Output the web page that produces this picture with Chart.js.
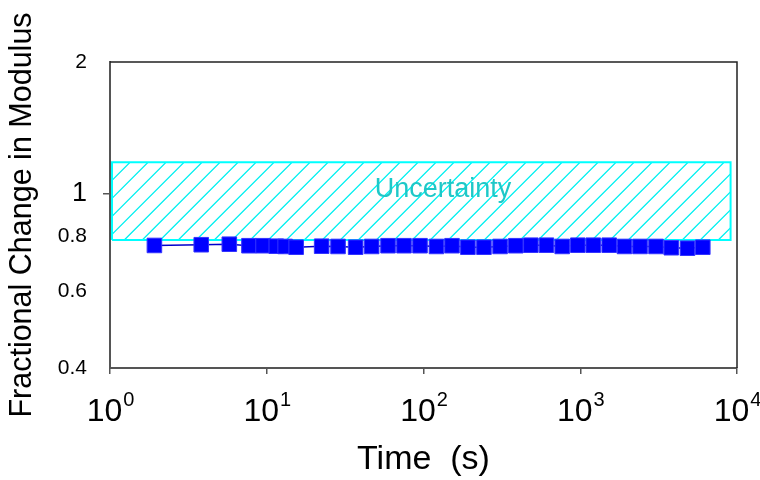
<!DOCTYPE html>
<html>
<head>
<meta charset="utf-8">
<script src="https://cdn.jsdelivr.net/npm/chart.js@4/dist/chart.umd.min.js"></script>
<style>
  html, body { margin: 0; padding: 0; background: #ffffff; }
  #wrap { width: 760px; height: 480px; }
</style>
</head>
<body>
<div id="wrap"><canvas id="c" width="760" height="480"></canvas></div>
<script>
// ---- data ----
const timeValues = [1.92, 3.82, 5.77, 7.7, 9.47, 11.5, 13.1, 15.4, 22.4, 28.5, 36.9, 46.7, 59.4, 75.1, 95.0, 121, 152, 192, 243, 308, 388, 484, 609, 767, 965, 1211, 1530, 1915, 2406, 3043, 3809, 4833, 6050];
const modulusChange = [0.762, 0.765, 0.767, 0.761, 0.761, 0.759, 0.758, 0.755, 0.759, 0.758, 0.755, 0.758, 0.761, 0.761, 0.761, 0.758, 0.761, 0.755, 0.755, 0.758, 0.761, 0.763, 0.763, 0.758, 0.763, 0.763, 0.763, 0.758, 0.758, 0.758, 0.753, 0.751, 0.755];
const bandX = [1.03, 9100];          // uncertainty band time extent
const bandY = [0.784, 1.18];         // uncertainty band modulus extent
const bandLabel = 'Uncertainty';
const bandLabelAt = [133, 1.025];
const xTickValues = [1, 10, 100, 1000, 10000];
const xTickExponents = ['0', '1', '2', '3', '4'];
const yTickValues = [0.4, 0.6, 0.8, 1, 2];
const yTickLabels = ['0.4', '0.6', '0.8', '1', '2'];

const FONT = "'Liberation Sans', Arial, sans-serif";

const bandPolygon = [
  {x: bandX[0], y: bandY[0]}, {x: bandX[0], y: bandY[1]},
  {x: bandX[1], y: bandY[1]}, {x: bandX[1], y: bandY[0]},
  {x: bandX[0], y: bandY[0]}
];

const hatchPlugin = {
  id: 'hatch',
  beforeDatasetsDraw(chart) {
    const ctx = chart.ctx;
    const xs = chart.scales.x, ys = chart.scales.y;
    const l = xs.getPixelForValue(bandX[0]), r = xs.getPixelForValue(bandX[1]);
    const t = ys.getPixelForValue(bandY[1]), b = ys.getPixelForValue(bandY[0]);
    ctx.save();
    ctx.beginPath();
    ctx.rect(l, t, r - l, b - t);
    ctx.clip();
    ctx.strokeStyle = '#00f0f0';
    ctx.lineWidth = 1.3;
    ctx.beginPath();
    const h = b - t, step = 18;
    for (let x0 = l - h; x0 < r + step; x0 += step) {
      ctx.moveTo(x0, b);
      ctx.lineTo(x0 + h, t);
    }
    ctx.stroke();
    ctx.restore();
  }
};

const framePlugin = {
  id: 'frame',
  afterDraw(chart) {
    const ctx = chart.ctx, a = chart.chartArea;
    const xs = chart.scales.x, ys = chart.scales.y;
    ctx.save();
    ctx.strokeStyle = '#222';
    ctx.lineWidth = 1.5;
    ctx.beginPath();
    ctx.moveTo(a.left, a.top); ctx.lineTo(a.right, a.top); ctx.lineTo(a.right, a.bottom);
    ctx.stroke();
    ctx.fillStyle = '#000';
    ctx.textBaseline = 'alphabetic';
    xTickValues.forEach((v, i) => {
      const px = xs.getPixelForValue(v);
      ctx.font = '32px ' + FONT;
      const wBase = ctx.measureText('10').width;
      ctx.font = '20px ' + FONT;
      const wExp = ctx.measureText(xTickExponents[i]).width;
      const start = px - (wBase + wExp) / 2;
      ctx.font = '32px ' + FONT;
      ctx.textAlign = 'left';
      ctx.fillText('10', start, a.bottom + 53);
      ctx.font = '20px ' + FONT;
      ctx.fillText(xTickExponents[i], start + wBase + 1, a.bottom + 38);
    });
    ctx.font = '27px ' + FONT;
    ctx.fillStyle = '#1ec8c8';
    ctx.textAlign = 'center';
    ctx.textBaseline = 'middle';
    ctx.fillText(bandLabel, xs.getPixelForValue(bandLabelAt[0]), ys.getPixelForValue(bandLabelAt[1]));
    ctx.restore();
  }
};

new Chart(document.getElementById('c'), {
  type: 'scatter',
  data: {
    datasets: [
      {
        label: 'Modulus',
        data: timeValues.map((t, i) => ({x: t, y: modulusChange[i]})),
        showLine: true,
        borderColor: '#0000cc',
        borderWidth: 1.5,
        pointStyle: 'rect',
        pointRadius: 10.3,
        pointBorderWidth: 1,
        pointBackgroundColor: '#0000ff',
        pointBorderColor: '#3333ff',
        order: 0
      },
      {
        label: 'Uncertainty',
        data: bandPolygon,
        showLine: true,
        fill: false,
        borderColor: '#00ffff',
        borderWidth: 2,
        pointRadius: 0,
        tension: 0,
        order: 1
      }
    ]
  },
  options: {
    responsive: false,
    animation: false,
    events: [],
    layout: { padding: { top: 62, right: 23, left: 0, bottom: 0 } },
    plugins: { legend: { display: false }, tooltip: { enabled: false } },
    scales: {
      x: {
        type: 'logarithmic',
        min: 1, max: 10000,
        afterBuildTicks: s => { s.ticks = xTickValues.map(v => ({value: v})); },
        afterFit: s => { s.height = 112; },
        ticks: { display: false, callback: v => String(v) },
        grid: { drawOnChartArea: false, drawTicks: true, tickLength: 6, color: '#555', lineWidth: 1.5 },
        border: { color: '#555', width: 2 },
        title: {
          display: true, text: 'Time  (s)', color: '#000',
          font: { family: FONT, size: 34 }, padding: { top: 0, bottom: 0 }
        }
      },
      y: {
        type: 'logarithmic',
        min: 0.4, max: 2,
        afterBuildTicks: s => { s.ticks = yTickValues.map(v => ({value: v})); },
        afterFit: s => { s.width = 110; },
        ticks: {
          color: '#000',
          padding: 16,
          font: ctx => ({ family: FONT, size: (ctx.tick && ctx.tick.value === 1) ? 27 : 21 }),
          callback: (v) => yTickLabels[yTickValues.indexOf(v)] ?? ''
        },
        grid: {
          drawOnChartArea: false, drawTicks: true, tickLength: 7, lineWidth: 1.5,
          color: ctx => (ctx.tick && ctx.tick.value === 1) ? '#555' : 'rgba(0,0,0,0)'
        },
        border: { color: '#555', width: 2 },
        title: {
          display: true, text: 'Fractional Change in Modulus', color: '#000',
          font: { family: FONT, size: 30.5 }, padding: { top: 4, bottom: 0 }
        }
      }
    }
  },
  plugins: [hatchPlugin, framePlugin]
});
</script>
</body>
</html>
